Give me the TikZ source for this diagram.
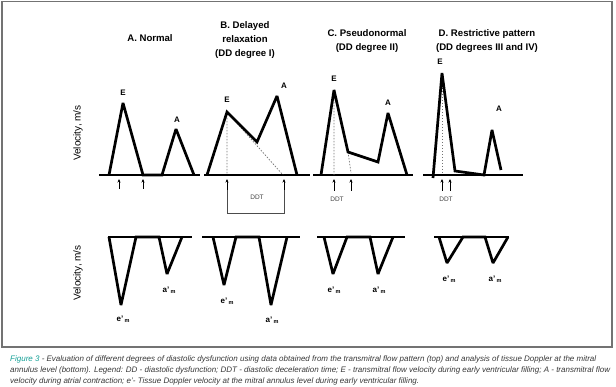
\documentclass[tikz,border=0pt]{standalone}
\usepackage{fontspec}
\setmainfont{Liberation Sans}
\usetikzlibrary{arrows.meta}
\definecolor{figteal}{RGB}{20,160,150}
\definecolor{captext}{RGB}{55,55,55}
\newcommand{\subm}{\,\raisebox{-1.5pt}{\fontsize{5.5}{6}\selectfont m}}

\begin{document}
\begin{tikzpicture}[x=1pt, y=-1pt,
  wave/.style={line width=2.7pt, miter limit=2},
  base/.style={line width=1.2pt},
  guide/.style={dash pattern=on 1.5pt off 1.5pt, black!55, line width=0.7pt},
  tick/.style={-{Stealth[length=3.5pt,width=3pt]}, line width=0.6pt},
  pk/.style={font=\bfseries\fontsize{8}{9}\selectfont, inner sep=1pt},
  ttl/.style={font=\bfseries\fontsize{9.6}{14}\selectfont, align=center},
  vaxis/.style={rotate=90, font=\fontsize{10}{12}\selectfont},
  ddt/.style={font=\fontsize{6.5}{7}\selectfont, text=black!75, inner sep=1pt},
  captxt/.style={anchor=base west, inner sep=0pt, font=\itshape\fontsize{8}{11}\selectfont, text=captext}]
\useasboundingbox (0,0) rectangle (616,387);
\draw[black!55, line width=1.3pt] (2,1.5) rectangle (612,347);

\node[ttl] (ta) at (150,38) {A. Normal};
\node[ttl] (tb) at (245,40) {B. Delayed\\relaxation\\(DD degree I)};
\node[ttl] (tc) at (367,41) {C. Pseudonormal\\(DD degree II)};
\node[ttl] (td) at (487,41) {D. Restrictive pattern\\(DD degrees III and IV)};
\node[vaxis] (vtop) at (78,133) {Velocity, m/s};
\node[vaxis] (vbot) at (78,273) {Velocity, m/s};

\draw[base] (99,175) -- (200,175) (204,175) -- (310,175) (313,175) -- (413,175) (423,175) -- (523,175);

\coordinate (eA) at (123,103); \coordinate (aA) at (176,129);
\draw[wave] (109,175) -- (eA) -- (143,175) -- (162,175) -- (aA) -- (194,175);
\node[pk] (lea) at (123,93) {E};
\node[pk] (laa) at (177,120) {A};
\draw[tick] (119,189) -- (119,179);
\draw[tick] (143,189) -- (143,179);

\coordinate (eB) at (227,112); \coordinate (aB) at (277,96); \coordinate (dB) at (283,175);
\draw[guide] (eB) -- (227,175) (eB) -- (dB);
\draw[wave] (207,175) -- (eB) -- (257,142) -- (aB) -- (297,175);
\node[pk] (leb) at (227,100) {E};
\node[pk] (lab) at (284,86) {A};
\coordinate (b1) at (227,190); \coordinate (b2) at (284,190);
\draw[tick] (b1) -- (227,179);
\draw[tick] (b2) -- (284,179);
\draw[black!70, line width=0.5pt] (b1) -- (227,213) -- (284,213) -- (b2);
\node[ddt] (ddtb) at (257,197) {DDT};

\coordinate (eC) at (334,90); \coordinate (aC) at (388,113); \coordinate (kC) at (348,152);
\draw[guide] (eC) -- (334,175) (kC) -- (351,173);
\draw[wave] (321,175) -- (eC) -- (kC) -- (378,162) -- (aC) -- (407,175);
\node[pk] (lec) at (334,79) {E};
\node[pk] (lac) at (388,103) {A};
\draw[tick] (334,191) -- (334,179);
\draw[tick] (351,191) -- (351,179);
\node[ddt] (ddtc) at (337,199) {DDT};

\coordinate (eD) at (442,73); \coordinate (aD) at (492,130);
\draw[guide] (eD) -- (442,175);
\draw[wave] (433,178) -- (eD) -- (455,171) -- (484,175) -- (aD) -- (501,170);
\node[pk] (led) at (440,62) {E};
\node[pk] (lad) at (499,109) {A};
\draw[tick] (442,191) -- (442,179);
\draw[tick] (450,191) -- (450,179);
\node[ddt] (ddtd) at (446,199) {DDT};

\draw[base] (108,237) -- (192,237) (202,237) -- (300,237) (317,237) -- (405,237) (434,237) -- (509,237);

\draw[wave] (109,237) -- (121,305) -- (136,237) -- (159,237) -- (167,274) -- (182,237);
\node[pk] (ema) at (123,319) {e'\subm};
\node[pk] (ama) at (169,290) {a'\subm};

\draw[wave] (213,237) -- (224,285) -- (236,237) -- (259,237) -- (271,305) -- (287,237);
\node[pk] (emb) at (227,301) {e'\subm};
\node[pk] (amb) at (272,320) {a'\subm};

\draw[wave] (324,237) -- (333,274) -- (347,237) -- (370,237) -- (378,274) -- (393,237);
\node[pk] (emc) at (334,290) {e'\subm};
\node[pk] (amc) at (379,290) {a'\subm};

\draw[wave] (439,237) -- (447,263) -- (463,237) -- (485,237) -- (493,263) -- (508,237);
\node[pk] (emd) at (449,279) {e'\subm};
\node[pk] (amd) at (495,279) {a'\subm};

\node[captxt] (cap1) at (10,361.5) {\textcolor{figteal}{Figure 3} - Evaluation of different degrees of diastolic dysfunction using data obtained from the transmitral flow pattern (top) and analysis of tissue Doppler at the mitral};
\node[captxt] (cap2) at (10,372.5) {annulus level (bottom). Legend: DD - diastolic dysfunction; DDT - diastolic deceleration time; E - transmitral flow velocity during early ventricular filling; A - transmitral flow};
\node[captxt] (cap3) at (10,383.5) {velocity during atrial contraction; e'- Tissue Doppler velocity at the mitral annulus level during early ventricular filling.};
\end{tikzpicture}
\end{document}
